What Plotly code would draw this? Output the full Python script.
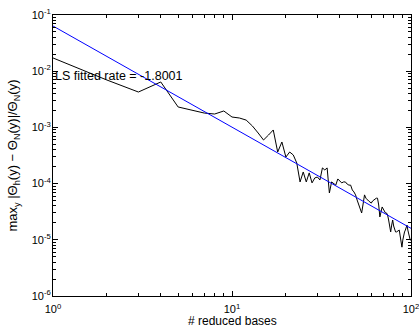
import numpy as np
import plotly.graph_objects as go

# number of reduced bases
n_bases = list(range(1, 101))

# max relative error
rel_error = [
    1.72e-2, 6.97e-3, 4.26e-3, 6.43e-3, 2.31e-3, 2.04e-3, 1.80e-3, 1.73e-3, 1.96e-3, 1.53e-3,
    1.47e-3, 1.35e-3, 1.06e-3, 7.95e-4, 5.97e-4, 7.32e-4, 9.0e-4, 3.65e-4, 5.5e-4, 2.97e-4,
    3.65e-4, 3.23e-4, 2.33e-4, 1.07e-4, 1.61e-4, 1.07e-4, 1.55e-4, 1.03e-4, 1.26e-4, 1.31e-4,
    1.16e-4, 1.90e-4, 1.75e-4, 1.90e-4, 6.8e-5, 1.07e-4, 9.8e-5, 9.4e-5, 1.21e-4, 1.11e-4,
    1.03e-4, 1.07e-4, 1.07e-4, 9.8e-5, 9.4e-5, 9.4e-5, 7.7e-5, 7.1e-5, 6.3e-5, 5.1e-5,
    4.16e-5, 3.39e-5, 3.0e-5, 4.33e-5, 6.3e-5, 5.5e-5, 5.1e-5, 4.9e-5, 4.7e-5, 4.5e-5,
    4.9e-5, 5.1e-5, 5.3e-5, 5.5e-5, 5.5e-5, 4.16e-5, 2.55e-5, 3.13e-5, 3.84e-5, 3.53e-5,
    3.25e-5, 3.0e-5, 3.0e-5, 2.76e-5, 2.25e-5, 1.76e-5, 1.38e-5, 1.83e-5, 2.25e-5, 1.76e-5,
    1.49e-5, 1.38e-5, 1.38e-5, 1.43e-5, 1.49e-5, 1.49e-5, 1.17e-5, 9.1e-6, 7.4e-6, 9.9e-6,
    1.22e-5, 1.38e-5, 1.49e-5, 1.76e-5, 1.83e-5, 1.49e-5, 1.22e-5, 1.08e-5, 9.9e-6, 9.9e-6,
]

# least-squares fit parameters
fit_rate = -1.8001
fit_const = 0.0637
fit_n = [1, 100]

x_tickvals = [1, 10, 100]
x_ticktext = ["10<sup>0</sup>", "10<sup>1</sup>", "10<sup>2</sup>"]
y_tickvals = [1e-6, 1e-5, 1e-4, 1e-3, 1e-2, 1e-1]
y_ticktext = ["10<sup>-6</sup>", "10<sup>-5</sup>", "10<sup>-4</sup>",
              "10<sup>-3</sup>", "10<sup>-2</sup>", "10<sup>-1</sup>"]

x_title = "# reduced bases"
y_title = "max<sub>y</sub> |Θ<sub>h</sub>(y) − Θ<sub>N</sub>(y)|/Θ<sub>N</sub>(y)"

fit_vals = [fit_const * np.power(float(n), fit_rate) for n in fit_n]

FONT = "Liberation Sans, Arial, sans-serif"

fig = go.Figure()
fig.add_trace(go.Scatter(x=n_bases, y=rel_error, mode="lines",
                         line=dict(color="black", width=1), showlegend=False))
fig.add_trace(go.Scatter(x=fit_n, y=fit_vals, mode="lines",
                         line=dict(color="#0000ff", width=1), showlegend=False))

x_minor = [m * 10 ** d for d in range(0, 2) for m in range(2, 10)]
y_minor = [m * 10.0 ** d for d in range(-6, -1) for m in range(2, 10)]

axis_common = dict(
    showgrid=False, zeroline=False, showline=True, linecolor="black", linewidth=1,
    mirror="allticks", ticks="inside", ticklen=5, tickcolor="black", tickwidth=1,
    tickfont=dict(family=FONT, size=11, color="black"), automargin=False,
    ticklabeloverflow="allow",
)

fig.update_xaxes(type="log", range=[0, 2], tickmode="array", tickvals=x_tickvals,
                 ticktext=x_ticktext, ticklabelstandoff=3,
                 minor=dict(ticks="inside", ticklen=3, tickcolor="black",
                            tickmode="array", tickvals=x_minor),
                 **axis_common)
fig.update_yaxes(type="log", range=[-6, -1], tickmode="array", tickvals=y_tickvals,
                 ticktext=y_ticktext, ticklabelstandoff=-1,
                 minor=dict(ticks="inside", ticklen=3, tickcolor="black",
                            tickmode="array", tickvals=y_minor),
                 **axis_common)

fig.add_annotation(x=0.5, y=-0.088, xref="paper", yref="paper", xanchor="center",
                   yanchor="middle", text=x_title, showarrow=False,
                   font=dict(family=FONT, size=12, color="black"))
fig.add_annotation(x=-0.109, y=0.5, xref="paper", yref="paper", xanchor="center",
                   yanchor="middle", text=y_title, showarrow=False, textangle=-90,
                   font=dict(family=FONT, size=13, color="black"))

fig.add_annotation(x=0, y=np.log10(8.2e-3), xref="x", yref="y", xanchor="left",
                   yanchor="middle", text="LS fitted rate = -1.8001", showarrow=False,
                   font=dict(family=FONT, size=12.5, color="black"))

fig.update_layout(width=419, height=328, margin=dict(l=53, r=8, t=15, b=32),
                  plot_bgcolor="white", paper_bgcolor="white")

fig.write_html("out.html")
